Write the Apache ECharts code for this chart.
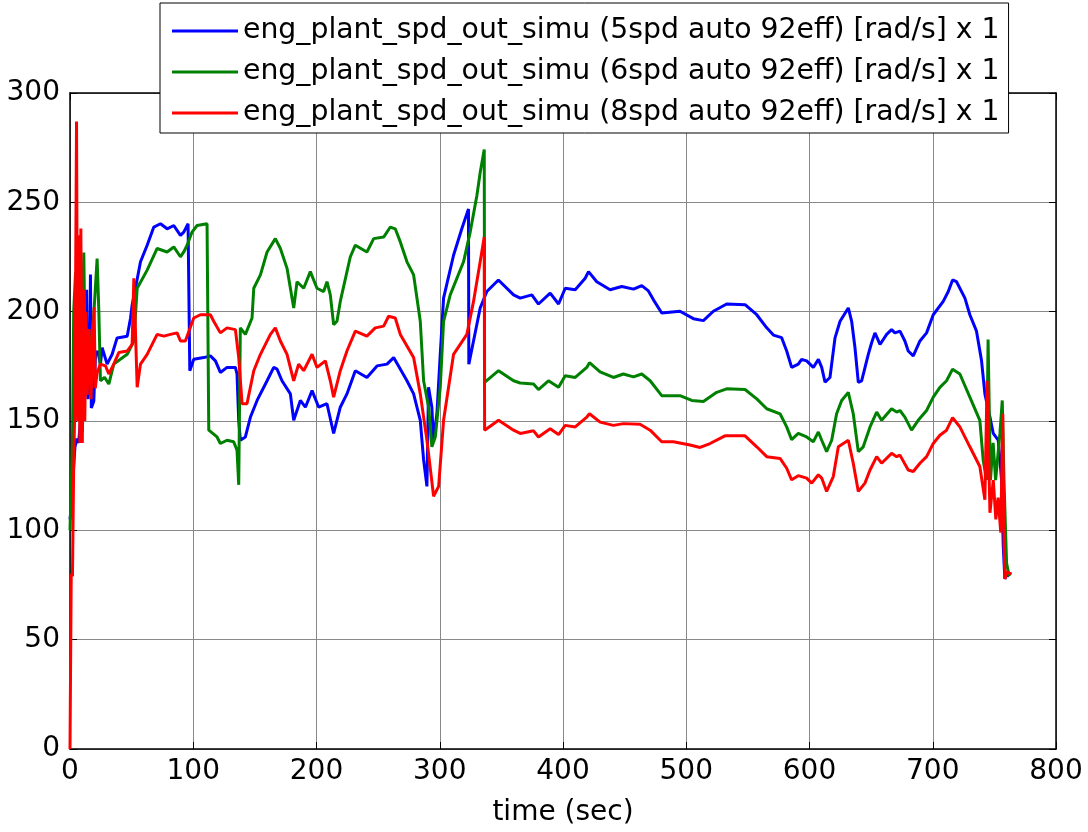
<!DOCTYPE html>
<html>
<head>
<meta charset="utf-8">
<script src="https://cdn.jsdelivr.net/npm/echarts@6/dist/echarts.min.js"></script>
<style>
  html, body { margin: 0; padding: 0; background: #fff; }
  #chart { width: 1088px; height: 832px; }
</style>
</head>
<body>
<div id="chart"></div>
<script>
// Engine output speed traces for three transmission configurations
const seriesNames = [
  'eng_plant_spd_out_simu (5spd auto 92eff) [rad/s] x 1',
  'eng_plant_spd_out_simu (6spd auto 92eff) [rad/s] x 1',
  'eng_plant_spd_out_simu (8spd auto 92eff) [rad/s] x 1'
];

const xTicks = [0, 100, 200, 300, 400, 500, 600, 700, 800];
const yTicks = [0, 50, 100, 150, 200, 250, 300];

// 5-speed automatic
const blueT = [0, 1, 2.5, 4, 5.5, 7, 8.5, 10, 11, 12.5, 13.5, 14.5, 16, 16.6, 17.3, 19.3, 20.7, 22.5, 24.7, 26.1, 30.1, 34.2, 38.2, 46.4, 49.1, 50.4, 53.1, 57.2, 62.6, 68, 73.4, 78.8, 84.2, 89.6, 92.3, 95.8, 96.4, 97.2, 100.4, 108.5, 113.9, 118, 122, 127.4, 134.2, 135.5, 136.9, 138.2, 142.3, 146.4, 151.8, 159.9, 165.3, 168, 172, 178.8, 181.5, 186.9, 191, 196.4, 201.8, 208.5, 213.9, 219.3, 224.7, 231.5, 240.9, 249.1, 257.2, 262.6, 273.4, 278.8, 284.2, 286.9, 289.6, 290.9, 293.6, 294.9, 297.7, 300.4, 303.1, 311.2, 317.9, 323.3, 323.6, 327.4, 332.8, 338.2, 347.6, 359.9, 365.3, 374.7, 380.1, 389.6, 396.4, 401.8, 409.9, 418, 420.7, 427.4, 438.2, 447.7, 457.2, 463.9, 469.3, 473.4, 480.1, 494.9, 505.8, 513.9, 522, 532.8, 547.7, 557.2, 565.3, 570.7, 577.4, 581.5, 585.5, 590.9, 593.6, 597.7, 603.1, 607.2, 609.9, 612.6, 616.6, 620.7, 624.8, 631.5, 634.2, 636.9, 639.6, 642.3, 647.7, 650.4, 653.1, 657.2, 662.6, 666.6, 669.3, 673.4, 677.4, 680.1, 684.2, 689.6, 695, 700.4, 708.5, 712.6, 716.1, 719.3, 726.1, 730.1, 735.5, 739.6, 742.3, 746.4, 749.1, 753.1, 754.5, 755.8, 757.2, 758.5, 760, 762];
const blueV = [105, 110, 125, 138, 142, 140, 150, 145, 165, 200, 210, 160, 175, 217, 156, 159, 180.5, 182, 176, 183.5, 176, 180.5, 188, 188.8, 197, 203, 210.7, 222.8, 230.4, 238.7, 240.2, 237.9, 239.4, 234.9, 236.4, 240.2, 210.7, 173, 178.2, 179, 179.8, 177.5, 172.2, 174.5, 174.5, 171.5, 150.3, 141.2, 142.7, 151.8, 159.4, 168.4, 174.5, 173.7, 168.4, 162.4, 150.3, 159.4, 156.3, 163.9, 156.3, 157.9, 144.3, 156.3, 162.4, 173, 169.9, 175.2, 176, 179, 168.4, 162.4, 150.3, 132.2, 120.1, 165.4, 156.3, 141.2, 153.3, 180.5, 206.2, 225.8, 237.9, 247, 176, 186.6, 201.7, 209.2, 214.5, 207.7, 206.2, 207.7, 203.5, 208.5, 203.5, 210.7, 210, 215.3, 218.3, 213.7, 210, 211.5, 210.3, 211.9, 209.5, 205.4, 199.4, 200.2, 196.8, 195.9, 200.2, 203.5, 203.2, 198.6, 192.6, 189.3, 188.1, 182, 174.5, 176, 178.2, 177.5, 174.5, 178.2, 174.5, 167.7, 169.9, 188, 195.6, 201.7, 195.6, 183.5, 167.7, 168.4, 180.5, 185.8, 190.3, 185, 189.6, 191.8, 190.3, 191.1, 186.6, 182, 179.8, 186.6, 190.3, 198.6, 204.7, 209.2, 214.5, 213.7, 206.2, 198.6, 191.1, 177.5, 162.4, 151.8, 144.3, 141.2, 132.2, 123.1, 92.9, 77.8, 80, 79];

// 6-speed automatic
const greenT = [0, 2, 3, 4.5, 6, 7.5, 9, 11.2, 12.6, 15.3, 17, 19.3, 22, 23.4, 24.7, 28, 31.5, 35.5, 46.4, 51.8, 54.5, 62.6, 70.7, 78.8, 84.2, 89.6, 92.3, 95, 99, 103.1, 111.2, 112.6, 119.3, 122, 127.4, 132.8, 135.5, 136.9, 138.2, 142.3, 147.7, 149.1, 154.5, 159.9, 166.6, 170.7, 176.1, 181.5, 184.2, 189.6, 195, 200.4, 205.8, 208.5, 211.2, 213.9, 216.6, 219.3, 227.4, 231.5, 240.9, 246.4, 254.5, 259.9, 263.9, 268, 273.4, 278.8, 284.2, 286.9, 291, 293.6, 296.4, 300.4, 303.1, 308.5, 319.3, 324.7, 330.1, 332.8, 336.1, 336.4, 347.7, 359.9, 365.3, 376.1, 380.1, 388.2, 396.4, 401.8, 409.9, 419.3, 421.5, 430.1, 440.9, 449, 457.2, 463.9, 470.7, 480.1, 494.9, 504.5, 513.9, 524.7, 532.8, 547.7, 557.2, 565.3, 576.1, 581.5, 585.5, 590.9, 597.7, 603.1, 607.2, 609.9, 613.9, 618, 622, 626.1, 631.5, 635.5, 639.6, 643.6, 649.1, 654.5, 658.5, 666.6, 670.7, 673.4, 677.4, 682.8, 688.2, 695, 700.4, 705.8, 711.2, 716.1, 722, 730.1, 738.2, 740.9, 743.6, 744.9, 746.8, 749, 751, 754.5, 756.4, 757.8, 759.9, 762];
const greenV = [100, 140, 200, 218, 170, 195, 165, 227, 168, 168, 185, 198.6, 224.3, 200.2, 168.4, 170, 166.9, 176, 180.5, 186.6, 210.7, 219, 228.9, 227.3, 229.6, 225.1, 227.3, 230.4, 236.4, 239.4, 240.2, 145.8, 142.7, 139.7, 141.2, 140.5, 136.7, 120.8, 192.6, 189.6, 197.1, 210.7, 216.8, 227.3, 233.4, 228.9, 219.8, 201.7, 213.7, 210.7, 218.3, 210.7, 209.2, 213.7, 207.7, 194.1, 195.6, 204.7, 225, 230.4, 227.3, 233.4, 234.1, 238.7, 237.9, 231.9, 222.8, 216.8, 195.6, 168.4, 156.3, 138.2, 142.7, 165.4, 195.6, 207.7, 222.8, 236.4, 253, 263.6, 274.2, 167.7, 173, 168.4, 167.4, 166.9, 164.4, 168.4, 165.4, 170.7, 169.9, 174.5, 176.7, 172.5, 169.9, 171.5, 170.2, 171.5, 168.4, 161.6, 161.6, 159.4, 158.9, 163.1, 164.7, 164.4, 160.1, 155.6, 153.3, 147.3, 141.5, 144.3, 142.7, 140.5, 145, 141.2, 136, 141.2, 153.3, 159.4, 163.1, 153.3, 136, 138.2, 147.3, 154.1, 150.3, 155.6, 154.1, 154.8, 151.8, 145.8, 150.3, 154.8, 160.9, 165.4, 168.4, 173.7, 171.5, 160.9, 150.3, 132.2, 123, 187.3, 123, 140, 123, 144.3, 159.4, 123, 85, 79];

// 8-speed automatic
const redT = [0, 0.7, 1, 2, 3, 4, 5.3, 6.2, 7, 8, 8.8, 10, 11, 12, 13, 14, 15.5, 17, 19.6, 20.5, 22, 24.7, 28.8, 31.5, 35.5, 39.6, 46.4, 50.4, 51.8, 54.5, 57.2, 62.6, 70.7, 76.1, 81.5, 86.9, 89.6, 93.6, 100.4, 105.8, 113.9, 116.6, 122, 127.4, 134.2, 136.9, 139.6, 143.6, 149.1, 154.5, 162.6, 166.6, 170.7, 176.1, 181.5, 185.5, 189.6, 196.4, 200.4, 207.2, 211.2, 213.9, 219.3, 224.7, 231.5, 240.9, 247.7, 254.5, 258.5, 263.9, 268, 278.8, 284.2, 289.6, 295, 299.1, 303.1, 311.2, 322, 327.4, 332.8, 336.1, 336.4, 347.7, 359.9, 365.3, 376.1, 380.1, 389.6, 396.4, 401.8, 409.9, 419.3, 421.5, 430.1, 440.9, 449, 462.5, 470.7, 480.1, 489.6, 503.1, 511.2, 519.3, 531.4, 547.7, 557.2, 565.3, 576.1, 581.5, 585.5, 590.9, 597.7, 601.8, 607.2, 609.9, 613.9, 619.3, 623.4, 631.5, 635.5, 639.6, 645, 649.1, 654.5, 658.5, 666.6, 670.7, 673.4, 680.1, 684.2, 689.6, 695, 700.4, 705.8, 711.2, 716.1, 722, 730.1, 738.2, 742.3, 744.1, 746.4, 749.1, 751.2, 753, 755.2, 756.8, 757.9, 758.7, 760, 764];
const redV = [0, 0, 80, 79, 130, 160, 287, 150, 235, 140, 238, 140, 210, 150, 200, 162, 192, 160, 202, 165, 172, 176, 175.2, 171.5, 176, 181.3, 182, 185, 215.3, 165.4, 176, 180.5, 189.6, 188.8, 189.6, 190.3, 186.6, 186.6, 197.1, 198.6, 198.6, 195.6, 190.3, 192.6, 191.8, 179, 157.9, 157.9, 173, 180.5, 189.6, 192.6, 186.6, 180.5, 168.4, 176, 173, 180.5, 174.5, 177.5, 168.4, 160.9, 173, 182, 191.1, 188.8, 192.6, 193.4, 197.9, 197.1, 189.6, 179, 162.4, 141.2, 115.6, 120.1, 150.3, 180.5, 189.6, 204.7, 222.8, 234.1, 145.8, 150.3, 145.8, 144.3, 145.5, 142.7, 146.5, 143.8, 148, 147.3, 151.8, 153.3, 149.5, 148, 148.8, 148.5, 145.8, 140.5, 140.5, 139, 137.9, 139.7, 143.2, 143.2, 138.2, 133.7, 132.9, 128.4, 123.1, 125, 123.9, 121.6, 125.4, 123.9, 117.8, 124.6, 138.2, 141.2, 130.7, 117.8, 121.6, 127.6, 133.7, 130.7, 135.2, 133.7, 134.4, 127.6, 126.9, 130.7, 133.7, 139.7, 143.5, 145.8, 151.5, 147.3, 138.2, 129.2, 114, 168.4, 108, 123, 105, 115, 99, 153.3, 93, 77.8, 81, 80];

const lineColors = ['#0000ff', '#008000', '#ff0000'];
const FONT = '"DejaVu Sans", "Liberation Sans", Arial, sans-serif';

function zip(t, v) { return t.map((x, i) => [x, v[i]]); }
const traces = [zip(blueT, blueV), zip(greenT, greenV), zip(redT, redV)];

const chart = echarts.init(document.getElementById('chart'), null, { renderer: 'canvas' });

// top and right edges of the axes box: ticks only, no labels
const boxAxis = {
  axisLine: { show: true, onZero: false, lineStyle: { color: '#000', width: 1.5 } },
  axisTick: { show: true, inside: true, length: 7, lineStyle: { color: '#000', width: 1 } },
  axisLabel: { show: false },
  splitLine: { show: false }
};

chart.setOption({
  animation: false,
  backgroundColor: '#fff',
  grid: { left: 70, right: 32, top: 93, bottom: 77, containLabel: false },
  legend: {
    data: seriesNames,
    orient: 'vertical',
    left: 160,
    top: 3,
    z: 20,
    icon: 'rect',
    itemWidth: 66,
    itemHeight: 3,
    itemGap: 3,
    padding: [9, 9, 1, 12],
    backgroundColor: '#fff',
    borderColor: '#000',
    borderWidth: 1,
    borderRadius: 0,
    textStyle: { fontFamily: FONT, fontSize: 28.3, color: '#000', lineHeight: 38 }
  },
  xAxis: [
    {
      type: 'value', min: 0, max: 800, interval: 100, position: 'bottom',
      name: 'time (sec)', nameLocation: 'middle', nameGap: 50,
      nameTextStyle: { fontFamily: FONT, fontSize: 28, color: '#000' },
      axisLine: { show: true, onZero: false, lineStyle: { color: '#000', width: 1.5 } },
      axisTick: { show: true, inside: true, length: 7, lineStyle: { color: '#000' } },
      axisLabel: { fontFamily: FONT, fontSize: 28, color: '#000', margin: 9,
        formatter: v => xTicks.includes(v) ? String(v) : '' },
      splitLine: { show: true, lineStyle: { color: '#888', width: 1 } }
    },
    Object.assign({ type: 'value', min: 0, max: 800, interval: 100, position: 'top' }, boxAxis)
  ],
  yAxis: [
    {
      type: 'value', min: 0, max: 300, interval: 50, position: 'left',
      axisLine: { show: true, onZero: false, lineStyle: { color: '#000', width: 1.5 } },
      axisTick: { show: true, inside: true, length: 7, lineStyle: { color: '#000' } },
      axisLabel: { fontFamily: FONT, fontSize: 28, color: '#000', margin: 10,
        formatter: v => yTicks.includes(v) ? String(v) : '' },
      splitLine: { show: true, lineStyle: { color: '#888', width: 1 } }
    },
    Object.assign({ type: 'value', min: 0, max: 300, interval: 50, position: 'right' }, boxAxis)
  ],
  series: seriesNames.map((name, i) => ({
    name: name,
    type: 'line',
    xAxisIndex: 0,
    yAxisIndex: 0,
    data: traces[i],
    showSymbol: false,
    symbol: 'none',
    clip: true,
    color: lineColors[i],
    lineStyle: { color: lineColors[i], width: 3 },
    z: 3 + i
  }))
});
</script>
</body>
</html>
